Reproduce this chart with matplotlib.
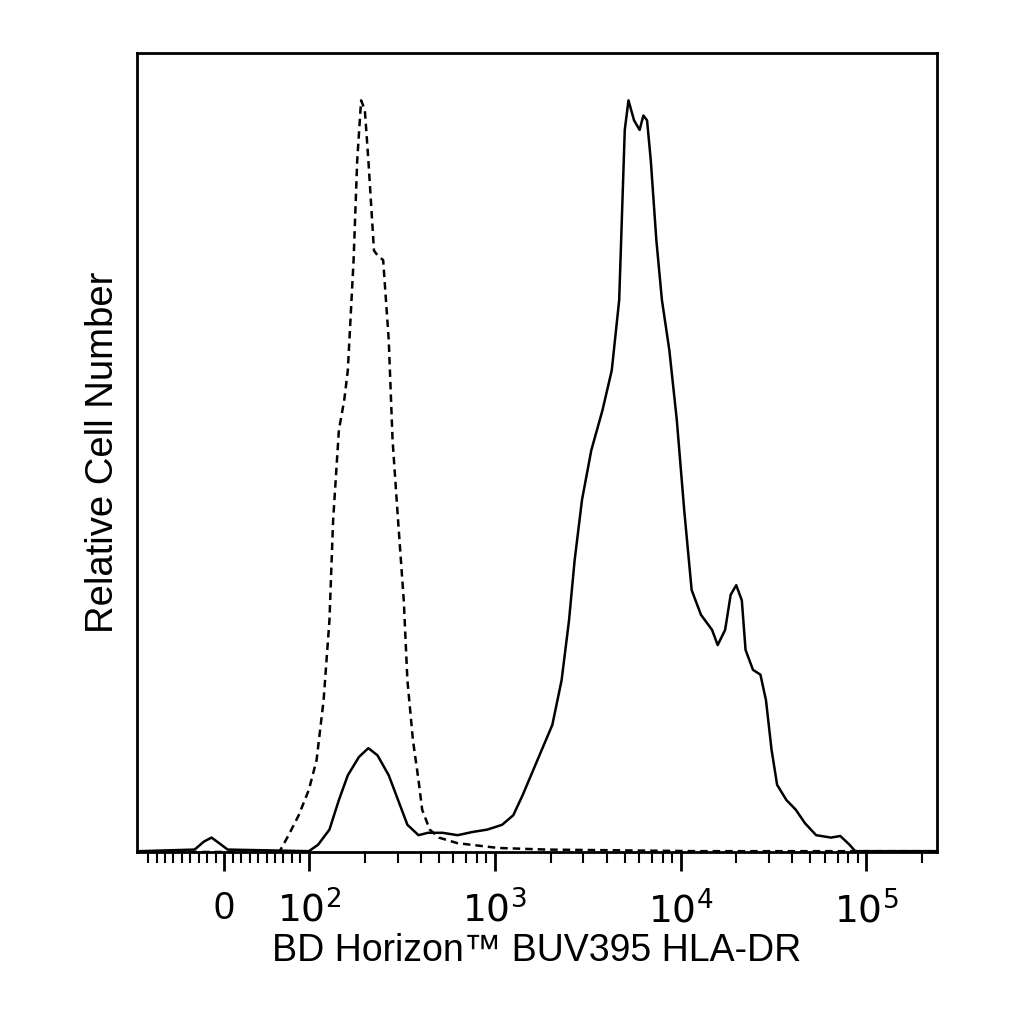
import matplotlib
matplotlib.use("Agg")
from matplotlib import pyplot as plt
from matplotlib.ticker import FixedLocator, NullFormatter

plt.rcParams['font.family'] = ['Liberation Sans', 'DejaVu Sans']

# isotype control (dashed)
ctrl_x = [-100, 50, 65, 76, 88, 100, 110, 120, 129, 135, 145, 155, 162, 174, 182, 191, 200, 209,
          224, 234, 251, 269, 282, 302, 324, 339, 363, 389, 407, 447, 501, 631, 813, 1047, 1905,
          12300, 87000, 240000]
ctrl_y = [0, 0, 0, .021, .046, .078, .115, .19, .29, .415, .528, .566, .603, .741, .866, .941, .929,
          .866, .753, .747, .741, .641, .516, .415, .315, .215, .14, .09, .053, .028, .018, .011,
          .008, .005, .003, .001, .001, .001]

# HLA-DR stained (solid)
stain_x = [-100, -35, -24, -15, -6, 4, 100, 112, 129, 145, 162, 186, 209, 234, 269, 302, 339, 389,
           437, 525, 631, 759, 912, 1096, 1259, 1413, 1698, 2042, 2291, 2512, 2692, 2951, 3311,
           3802, 4266, 4677, 5012, 5248, 5623, 6026, 6310, 6607, 6918, 7413, 7943, 8710, 9550,
           10470, 11480, 12880, 14790, 15850, 17380, 18620, 19950, 21380, 22390, 24550, 26920,
           28840, 30900, 33110, 37150, 41690, 46770, 53700, 64570, 72440, 81280, 87100, 240000]
stain_y = [.001, .003, .013, .018, .011, .003, .001, .009, .028, .065, .096, .119, .13, .121, .096,
           .065, .034, .021, .024, .024, .021, .025, .028, .034, .046, .071, .115, .159, .215, .29,
           .365, .441, .503, .553, .603, .691, .904, .941, .916, .904, .922, .916, .866, .766, .691,
           .628, .541, .428, .328, .297, .278, .259, .278, .322, .334, .315, .253, .228, .222, .19,
           .128, .084, .065, .053, .036, .021, .018, .02, .009, .001, .001]

major_ticks = [0, 100, 1000, 10000, 100000]
major_labels = ["0", "$10^2$", "$10^3$", "$10^4$", "$10^5$"]

fig = plt.figure(figsize=(10.24, 10.24), dpi=100)
ax = fig.add_axes([0.134, 0.168, 0.781, 0.78])

ax.plot(ctrl_x, ctrl_y, color="black", lw=1.8, ls=(0, (3, 2)))
ax.plot(stain_x, stain_y, color="black", lw=1.8)

ax.set_xscale("symlog", linthresh=100, linscale=0.41)
ax.set_xlim(-103, 240000)
ax.set_ylim(0, 1)

minor = [v for v in range(-90, 100, 10) if v != 0]
for d in [100, 1000, 10000, 100000]:
    minor += [k * d for k in range(2, 10) if k * d < 240000]
ax.xaxis.set_major_locator(FixedLocator(major_ticks))
ax.xaxis.set_minor_locator(FixedLocator(minor))
ax.xaxis.set_minor_formatter(NullFormatter())
ax.set_xticklabels(major_labels)
ax.tick_params(axis="x", which="major", length=14, width=2, labelsize=27, pad=14)
ax.tick_params(axis="x", which="minor", length=8, width=1.5)
ax.set_yticks([])
for s in ax.spines.values():
    s.set_linewidth(2)

ax.set_xlabel("BD Horizon™ BUV395 HLA-DR", fontsize=27, labelpad=2)
ax.set_ylabel("Relative Cell Number", fontsize=27.5, labelpad=12)

fig.savefig("out.png", dpi=100)
